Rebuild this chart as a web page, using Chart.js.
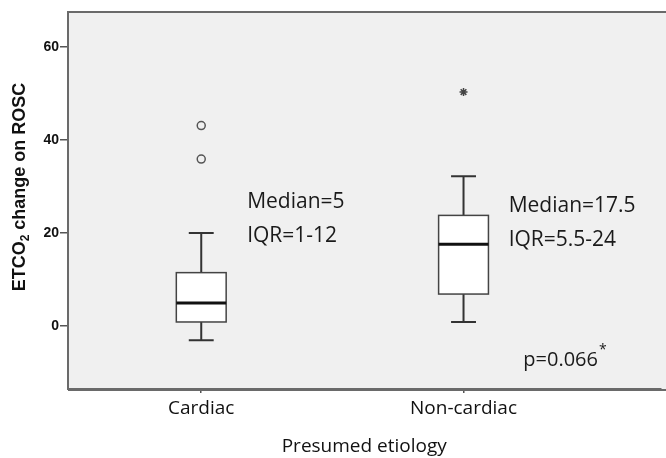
<!DOCTYPE html>
<html>
<head>
<meta charset="utf-8">
<script src="https://cdn.jsdelivr.net/npm/chart.js@4.4.0/dist/chart.umd.min.js"></script>
<style>
  html, body { margin: 0; padding: 0; background: #fff; overflow: hidden; }
  canvas { display: block; }
</style>
</head>
<body>
<canvas id="c" width="666" height="458"></canvas>
<script>
// Daten
const categories = ["Cardiac", "Non-cardiac"];
const whiskerLow = [-3, 0.9];
const q1 = [0.9, 6.9];
const medians = [5, 17.6];
const q3 = [11.5, 23.8];
const whiskerHigh = [20, 32.2];
const outlierCat = [0, 0];
const outlierVal = [43.1, 35.9];
const extremeCat = [1];
const extremeVal = [50.3];
const yTicks = [0, 20, 40, 60];
const noteLines = [["Median=5", "IQR=1-12"], ["Median=17.5", "IQR=5.5-24"]];
const pNote = "p=0.066";

// Layout (Position der Texte in Achsen-Einheiten)
const noteX = [0.175, 1.172];
const noteY = [[25.3, 18.1], [24.5, 17.3]];
const pPos = { x: 1.228, y: -8.6 };
const boxWidth = 0.19;
const capWidth = 0.095;

const textFont = '"Open Sans", "Noto Sans", sans-serif';

const boxPlugin = {
  id: "boxes",
  beforeDraw(chart) {
    const { ctx, chartArea: a } = chart;
    ctx.save();
    ctx.fillStyle = "#f0f0f0";
    ctx.fillRect(a.left, a.top, chart.width - a.left, a.bottom - a.top);
    ctx.restore();
  },
  beforeDatasetsDraw(chart) {
    const { ctx, scales: { x, y } } = chart;
    ctx.save();
    categories.forEach((c, i) => {
      const cx = x.getPixelForValue(i);
      const hb = (x.getPixelForValue(i + boxWidth) - cx) / 2;
      const hc = (x.getPixelForValue(i + capWidth) - cx) / 2;
      const yLo = y.getPixelForValue(whiskerLow[i]);
      const yQ1 = y.getPixelForValue(q1[i]);
      const yMed = y.getPixelForValue(medians[i]);
      const yQ3 = y.getPixelForValue(q3[i]);
      const yHi = y.getPixelForValue(whiskerHigh[i]);

      ctx.strokeStyle = "#333";
      ctx.lineWidth = 2;
      ctx.beginPath();
      // Whisker
      ctx.moveTo(cx, yQ3); ctx.lineTo(cx, yHi);
      ctx.moveTo(cx - hc, yHi); ctx.lineTo(cx + hc, yHi);
      ctx.moveTo(cx, yQ1); ctx.lineTo(cx, yLo);
      ctx.moveTo(cx - hc, yLo); ctx.lineTo(cx + hc, yLo);
      ctx.stroke();

      // Box
      ctx.fillStyle = "#fff";
      ctx.fillRect(cx - hb, yQ3, hb * 2, yQ1 - yQ3);
      ctx.lineWidth = 1.5;
      ctx.strokeStyle = "#444";
      ctx.strokeRect(cx - hb, yQ3, hb * 2, yQ1 - yQ3);

      // Median
      ctx.strokeStyle = "#111";
      ctx.lineWidth = 3;
      ctx.beginPath();
      ctx.moveTo(cx - hb, yMed); ctx.lineTo(cx + hb, yMed);
      ctx.stroke();
    });
    ctx.restore();
  },
  afterDraw(chart) {
    const { ctx, chartArea: a, scales: { x, y } } = chart;
    ctx.save();
    // obere und untere Rahmenlinie bis zum Rand
    ctx.strokeStyle = "#6a6a6a";
    ctx.lineWidth = 2;
    ctx.beginPath();
    ctx.moveTo(a.left - 1, a.top);
    ctx.lineTo(chart.width, a.top);
    ctx.moveTo(a.left, a.bottom + 1);
    ctx.lineTo(chart.width, a.bottom + 1);
    ctx.stroke();

    // Median / IQR Texte
    ctx.fillStyle = "#1a1a1a";
    ctx.font = "21px " + textFont;
    ctx.textAlign = "left";
    ctx.textBaseline = "alphabetic";
    noteLines.forEach((lines, i) => {
      lines.forEach((t, j) => {
        ctx.fillText(t, x.getPixelForValue(noteX[i]), y.getPixelForValue(noteY[i][j]));
      });
    });

    // p-Wert mit hochgestelltem Stern
    const px = x.getPixelForValue(pPos.x);
    const py = y.getPixelForValue(pPos.y);
    ctx.font = "20px " + textFont;
    ctx.fillText(pNote, px, py);
    const w = ctx.measureText(pNote).width;
    ctx.font = "14px " + textFont;
    ctx.fillText("*", px + w + 1, py - 12);

    // Y-Achsentitel mit tiefgestellter 2
    ctx.translate(20, 187);
    ctx.rotate(-Math.PI / 2);
    const big = 'bold 18px "Liberation Sans", Arial, sans-serif';
    const small = 'bold 12px "Liberation Sans", Arial, sans-serif';
    const p1 = "ETCO", p2 = "2", p3 = " change on ROSC";
    ctx.font = big;
    const w1 = ctx.measureText(p1).width, w3 = ctx.measureText(p3).width;
    ctx.font = small;
    const w2 = ctx.measureText(p2).width;
    let sx = -(w1 + w2 + w3) / 2;
    ctx.fillStyle = "#111";
    ctx.textBaseline = "middle";
    ctx.font = big;
    ctx.fillText(p1, sx, 0);
    ctx.font = small;
    ctx.fillText(p2, sx + w1, 6);
    ctx.font = big;
    ctx.fillText(p3, sx + w1 + w2, 0);
    ctx.restore();
  }
};

new Chart(document.getElementById("c"), {
  type: "scatter",
  data: {
    datasets: [
      {
        label: "Ausreißer",
        data: outlierCat.map((c, i) => ({ x: c, y: outlierVal[i] })),
        pointStyle: "circle",
        pointRadius: 4,
        borderColor: "#555",
        borderWidth: 1.5,
        backgroundColor: "#f0f0f0"
      },
      {
        label: "Extremwerte",
        data: extremeCat.map((c, i) => ({ x: c, y: extremeVal[i] })),
        pointStyle: "star",
        pointRadius: 4,
        borderColor: "#444",
        borderWidth: 1.5,
        backgroundColor: "#444"
      }
    ]
  },
  options: {
    responsive: false,
    animation: false,
    layout: { padding: { top: 12, left: 0, right: 0, bottom: 0 } },
    plugins: {
      legend: { display: false },
      tooltip: { enabled: false }
    },
    scales: {
      x: {
        type: "linear",
        min: -0.508,
        max: 1.751,
        afterBuildTicks: s => { s.ticks = categories.map((c, i) => ({ value: i })); },
        afterFit: s => { s.height = 69; s.paddingRight = 0; s.paddingLeft = 0; },
        ticks: {
          callback: v => categories[v],
          font: { family: textFont, size: 19 },
          color: "#111",
          padding: 4,
          maxRotation: 0,
          autoSkip: false
        },
        grid: { drawOnChartArea: false, drawTicks: true, tickLength: 4, color: "#555", lineWidth: 1.5 },
        border: { display: true, color: "#6a6a6a", width: 2 },
        title: {
          display: true,
          text: "Presumed etiology",
          font: { family: textFont, size: 19 },
          color: "#111",
          padding: { top: 0, bottom: 0 }
        }
      },
      y: {
        min: -13.5,
        max: 67.5,
        afterBuildTicks: s => { s.ticks = yTicks.map(v => ({ value: v })); },
        afterFit: s => { s.width = 68; },
        ticks: {
          font: { family: '"Liberation Sans", Arial, sans-serif', size: 14, weight: "bold" },
          color: "#111",
          padding: 1
        },
        grid: { drawOnChartArea: false, drawTicks: true, tickLength: 8, color: "#555", lineWidth: 1.5 },
        border: { display: true, color: "#6a6a6a", width: 2 }
      }
    }
  },
  plugins: [boxPlugin]
});
</script>
</body>
</html>
